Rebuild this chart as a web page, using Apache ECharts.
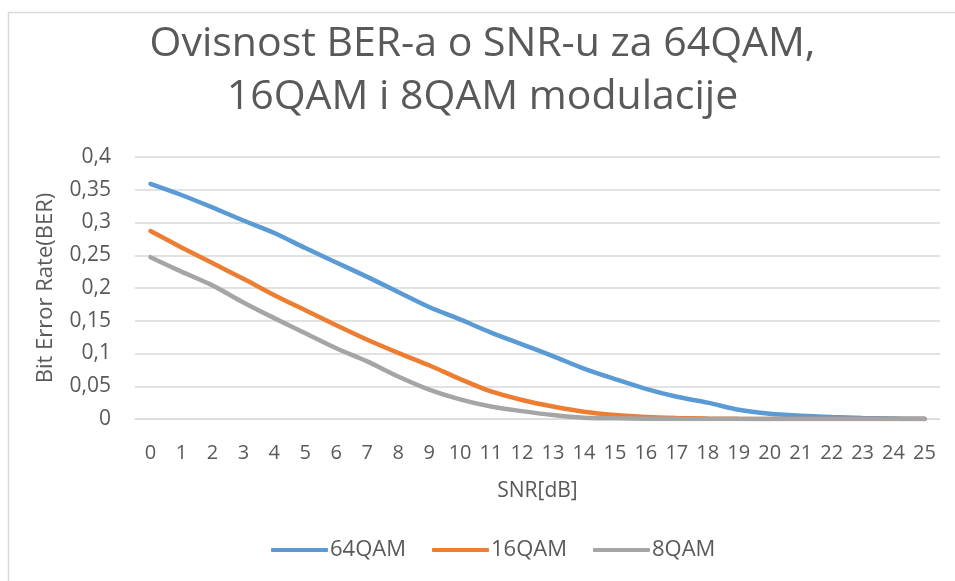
<!DOCTYPE html>
<html>
<head>
<meta charset="utf-8">
<script src="https://cdn.jsdelivr.net/npm/echarts@6/dist/echarts.min.js"></script>
<style>
  html, body { margin: 0; padding: 0; background: #fff; }
</style>
</head>
<body>
<div id="chart" style="width: 955px; height: 581px;"></div>
<script>
// SNR vrijednosti (x os)
var snr = ['0', '1', '2', '3', '4', '5', '6', '7', '8', '9', '10', '11', '12',
  '13', '14', '15', '16', '17', '18', '19', '20', '21', '22', '23', '24', '25']

// BER vrijednosti ocitane sa slike
var ber64 = [0.359, 0.342, 0.323, 0.303, 0.284, 0.261, 0.239, 0.217, 0.194, 0.171,
  0.152, 0.132, 0.114, 0.096, 0.077, 0.061, 0.046, 0.034, 0.025, 0.014,
  0.008, 0.005, 0.003, 0.0015, 0.0008, 0.0003]
var ber16 = [0.287, 0.262, 0.238, 0.214, 0.189, 0.166, 0.143, 0.121, 0.101, 0.082,
  0.061, 0.042, 0.029, 0.019, 0.011, 0.006, 0.003, 0.0015, 0.0007, 0.0003,
  0.0001, 0, 0, 0, 0, 0]
var ber8 = [0.247, 0.225, 0.204, 0.178, 0.154, 0.131, 0.108, 0.088, 0.065, 0.045,
  0.030, 0.019, 0.012, 0.006, 0.002, 0.001, 0.0005, 0.0002, 0.0001, 0,
  0, 0, 0, 0, 0, 0]

var seriesNames = ['64QAM', '16QAM', '8QAM']
var seriesColors = ['#5b9bd5', '#ed7d31', '#a5a5a5']

var txt = '#595959'
var font = 'Open Sans'

var chart = echarts.init(document.getElementById('chart'))

var series = [ber64, ber16, ber8].map(function (d, i) {
  return {
    name: seriesNames[i],
    type: 'line',
    data: d,
    smooth: 0.3,
    showSymbol: false,
    symbol: 'none',
    lineStyle: { width: 4.5, color: seriesColors[i], cap: 'round' },
    itemStyle: { color: seriesColors[i] }
  }
})

chart.setOption({
  animation: false,
  backgroundColor: '#fff',
  graphic: [{
    type: 'rect',
    shape: { x: 8.5, y: 12.5, width: 1000, height: 1000 },
    style: { fill: 'none', stroke: '#d9d9d9', lineWidth: 1.5 },
    silent: true
  }],
  title: {
    text: 'Ovisnost BER-a o SNR-u za 64QAM,\n16QAM i 8QAM modulacije',
    left: '50%',
    top: 13,
    textAlign: 'center',
    textStyle: {
      fontFamily: font,
      fontSize: 41,
      fontWeight: 'normal',
      color: txt,
      lineHeight: 53
    }
  },
  legend: {
    data: seriesNames,
    bottom: 15,
    left: 266,
    itemWidth: 57,
    itemHeight: 4,
    itemGap: 26,
    icon: 'roundRect',
    textStyle: { fontFamily: font, fontSize: 22, color: txt, padding: [0, 0, 0, -3] }
  },
  grid: {
    left: 135,
    right: 15,
    top: 157,
    bottom: 162
  },
  xAxis: {
    type: 'category',
    data: snr,
    boundaryGap: true,
    name: 'SNR[dB]',
    nameLocation: 'middle',
    nameGap: 62,
    nameTextStyle: { fontFamily: font, fontSize: 21, color: txt },
    axisLine: { show: true, lineStyle: { color: '#d9d9d9', width: 1 } },
    axisTick: { show: false },
    axisLabel: { fontFamily: font, fontSize: 20, color: txt, margin: 24, interval: 0 },
    splitLine: { show: false }
  },
  yAxis: {
    type: 'value',
    min: 0,
    max: 0.4,
    interval: 0.05,
    name: 'Bit Error Rate(BER)',
    nameLocation: 'middle',
    nameGap: 78,
    nameTextStyle: { fontFamily: font, fontSize: 22, color: txt },
    axisLine: { show: false },
    axisTick: { show: false },
    axisLabel: {
      fontFamily: font,
      fontSize: 21,
      color: txt,
      margin: 24,
      formatter: function (v) {
        return String(Math.round(v * 100) / 100).replace('.', ',')
      }
    },
    splitLine: { lineStyle: { color: '#d9d9d9', width: 1.5 } }
  },
  series: series
})
</script>
</body>
</html>
